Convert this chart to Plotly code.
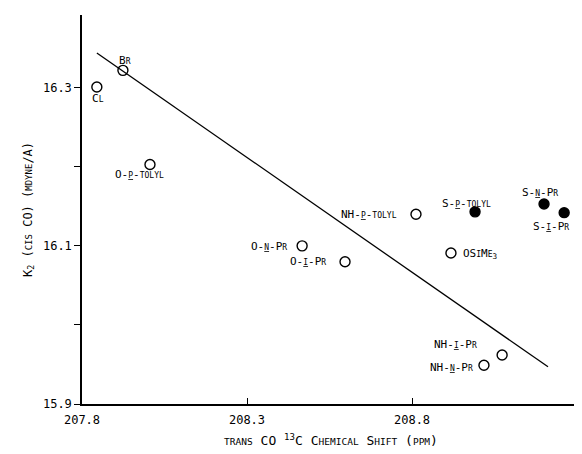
import plotly.graph_objects as go

# ---- data ----
names = ["Cl", "Br", "O-p-tolyl", "O-n-Pr", "O-i-Pr", "NH-p-tolyl", "S-p-tolyl",
         "OSiMe3", "S-n-Pr", "S-i-Pr", "NH-i-Pr", "NH-n-Pr"]
shift_ppm = [207.845, 207.924, 208.006, 208.467, 208.597, 208.812, 208.991,
             208.918, 209.200, 209.261, 209.073, 209.018]
k2 = [16.301, 16.322, 16.203, 16.100, 16.080, 16.140, 16.143,
      16.091, 16.153, 16.142, 15.962, 15.949]
sulfur = [False, False, False, False, False, False, True,
          False, True, True, False, False]

fit_x = [207.845, 209.212]
fit_y = [16.344, 15.947]

x_tickvals = [207.8, 208.3, 208.8]
x_ticktext = ["207.8", "208.3", "208.8"]
y_tickvals = [15.9, 16.1, 16.3]
y_ticktext = ["15.9", "16.1", "16.3"]
y_minor_tickvals = [16.0, 16.2]

FONT = "DejaVu Sans Mono"
BIG, SMALL = 11, 8


def sc(s, big=BIG, small=SMALL):
    """small caps: lowercase letters rendered as smaller capitals; '_x' underlines x"""
    out = []
    i = 0
    while i < len(s):
        ch = s[i]
        if ch == "_" and i + 1 < len(s):
            nxt = s[i + 1]
            size = small if nxt.islower() else big
            out.append(f"<u><span style='font-size:{size}px'>{nxt.upper()}</span></u>")
            i += 2
            continue
        if ch.islower():
            out.append(f"<span style='font-size:{small}px'>{ch.upper()}</span>")
        else:
            out.append(ch)
        i += 1
    return "".join(out)


display = {
    "Cl": sc("Cl"), "Br": sc("Br"),
    "O-p-tolyl": sc("O-_p-tolyl"), "O-n-Pr": sc("O-_n-Pr"), "O-i-Pr": sc("O-_i-Pr"),
    "NH-p-tolyl": sc("NH-_p-tolyl"), "S-p-tolyl": sc("S-_p-tolyl"),
    "OSiMe3": "OS" + sc("i") + "M" + sc("e") + "<sub>3</sub>",
    "S-n-Pr": sc("S-_n-Pr"), "S-i-Pr": sc("S-_i-Pr"),
    "NH-i-Pr": sc("NH-_i-Pr"), "NH-n-Pr": sc("NH-_n-Pr"),
}

# label placement: (xanchor, xshift px, yshift px)
label_pos = {
    "Cl": ("center", 1, -12), "Br": ("center", 2, 10),
    "O-p-tolyl": ("center", -10, -10), "O-n-Pr": ("right", -13, -1),
    "O-i-Pr": ("right", -17, 0), "NH-p-tolyl": ("right", -17, 0),
    "S-p-tolyl": ("center", -9, 8), "OSiMe3": ("left", 10, -1),
    "S-n-Pr": ("center", -4, 11), "S-i-Pr": ("right", 7, -14),
    "NH-i-Pr": ("right", -23, 10), "NH-n-Pr": ("right", -9, -2),
}

fig = go.Figure()
fig.add_trace(go.Scatter(x=fit_x, y=fit_y, mode="lines",
                         line=dict(color="black", width=1.3), hoverinfo="skip",
                         showlegend=False))
fig.add_trace(go.Scatter(
    x=shift_ppm, y=k2, mode="markers", showlegend=False, cliponaxis=False,
    marker=dict(size=10, color="black",
                symbol=["circle" if s else "circle-open" for s in sulfur],
                line=dict(color="black", width=1.4)),
    text=names))

for n, xv, yv in zip(names, shift_ppm, k2):
    anc, dx, dy = label_pos[n]
    fig.add_annotation(x=xv, y=yv, xref="x", yref="y", text=display[n],
                       showarrow=False, xanchor=anc, yanchor="middle",
                       xshift=dx, yshift=dy,
                       font=dict(family=FONT, size=BIG, color="black"))

x_title = (sc("trans", 13, 9.5) + " CO <sup>13</sup>C " + sc("Chemical", 13, 9.5) + " "
           + sc("Shift", 13, 9.5) + " " + sc("(ppm)", 13, 9.5))
y_title = "K<sub>2</sub> " + sc("(cis CO)", 12, 9) + " " + sc("(mdyne/A)", 12, 9)

# page body has an 8px margin, so the figure is 8px smaller and offset
fig.update_layout(
    width=574, height=446,
    margin=dict(l=74, r=2, t=7, b=50, autoexpand=False),
    paper_bgcolor="white", plot_bgcolor="white",
    font=dict(family=FONT, size=BIG, color="black"),
    xaxis=dict(range=[207.8, 209.309], showgrid=False, zeroline=False,
               automargin=False,
               showline=True, linecolor="black", linewidth=1.5,
               ticks="inside", ticklen=6, tickwidth=1, tickcolor="black",
               tickvals=x_tickvals, ticktext=x_ticktext,
               ticklabelstandoff=4,
               tickfont=dict(family=FONT, size=12),
               title=dict(text=x_title, standoff=10,
                          font=dict(family=FONT, size=13))),
    yaxis=dict(range=[15.9, 16.392], showgrid=False, zeroline=False,
               automargin=False,
               showline=True, linecolor="black", linewidth=1.5,
               ticks="outside", ticklen=6, tickwidth=1, tickcolor="black",
               tickvals=y_tickvals, ticktext=y_ticktext,
               minor=dict(tickvals=y_minor_tickvals, ticks="outside", ticklen=6,
                          tickwidth=1, tickcolor="black", showgrid=False),
               tickfont=dict(family=FONT, size=12),
               title=dict(text=y_title, standoff=8,
                          font=dict(family=FONT, size=12))),
)

fig.write_html("out.html")
